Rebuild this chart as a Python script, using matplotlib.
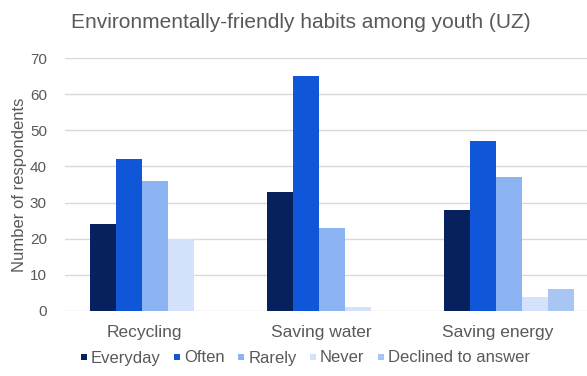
import matplotlib
matplotlib.use("Agg")
import matplotlib.pyplot as plt
from matplotlib.lines import Line2D
import numpy as np

categories = ["Recycling", "Saving water", "Saving energy"]
series_names = ["Everyday", "Often", "Rarely", "Never", "Declined to answer"]
everyday = [24, 33, 28]
often = [42, 65, 47]
rarely = [36, 23, 37]
never = [20, 1, 4]
declined = [0, 0, 6]
colors = ["#06215e", "#0f57d8", "#8db4f2", "#d4e3fb", "#a9c5f4"]
yticks = [0, 10, 20, 30, 40, 50, 60, 70]

plt.rcParams['font.family'] = ['Liberation Sans', 'DejaVu Sans']

fig = plt.figure(figsize=(5.87, 3.76), dpi=100)
ax = fig.add_axes([65/587, (376-311)/376, (587-65)/587, (311-58)/376])

values = [everyday, often, rarely, never, declined]
x = np.arange(len(categories))
bw = 0.147
for i, (name, vals, c) in enumerate(zip(series_names, values, colors)):
    ax.bar(x + (i - 2) * bw, vals, bw, color=c, label=name, zorder=3)

ax.set_xlim(-0.506, 2.443)
ax.set_ylim(0, 70)
ax.set_yticks(yticks)
ax.grid(axis='y', color='#d9d9d9', linewidth=1, zorder=0)
for s in ax.spines.values():
    s.set_visible(False)
ax.tick_params(axis='both', length=0, colors='#595959')
ax.tick_params(axis='y', pad=13, labelsize=11)
ax.tick_params(axis='x', pad=10, labelsize=12.5)
ax.set_xticks(x - 0.06)
ax.set_xticklabels(categories)
ax.set_ylabel("Number of respondents", color='#595959', fontsize=12, labelpad=2)
fig.text(0.513, 0.939, "Environmentally-friendly habits among youth (UZ)", ha='center', va='center',
         fontsize=15, color='#595959')

handles = [Line2D([], [], linestyle='none', marker='s', markersize=5, color=c, markeredgewidth=0)
           for c in colors]
leg = fig.legend(handles, series_names, loc='center', bbox_to_anchor=(305/587, (376-358)/376), ncol=5,
                 frameon=False, fontsize=12, handlelength=0.45, handletextpad=0.2, columnspacing=0.75,
                 borderpad=0, borderaxespad=0)
for t in leg.get_texts():
    t.set_color('#595959')

fig.savefig("out.png", dpi=100)
